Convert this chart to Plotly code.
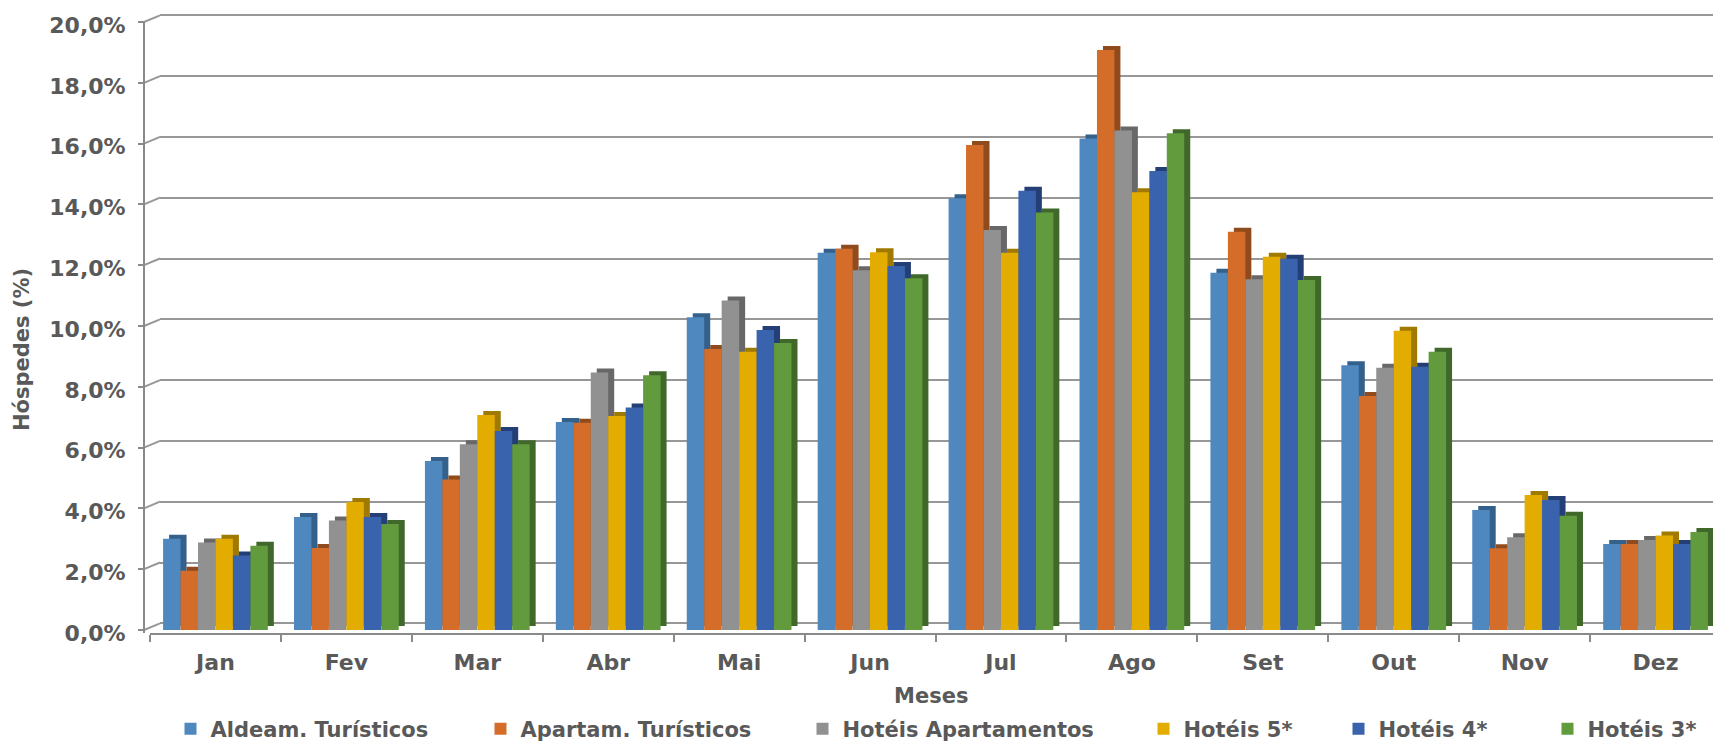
import plotly.graph_objects as go

# ---------------- data ----------------
months = ["Jan", "Fev", "Mar", "Abr", "Mai", "Jun", "Jul", "Ago", "Set", "Out", "Nov", "Dez"]

aldeam_turisticos = [3.00, 3.72, 5.56, 6.84, 10.29, 12.41, 14.20, 16.17, 11.75, 8.71, 3.95, 2.83]
apartam_turisticos = [1.95, 2.70, 4.95, 6.82, 9.24, 12.54, 15.95, 19.08, 13.10, 7.70, 2.69, 2.83]
hoteis_apartamentos = [2.88, 3.60, 6.11, 8.47, 10.84, 11.83, 13.16, 16.43, 11.54, 8.63, 3.05, 2.96]
hoteis_5 = [3.00, 4.21, 7.07, 7.04, 9.15, 12.43, 12.41, 14.40, 12.28, 9.84, 4.44, 3.11]
hoteis_4 = [2.45, 3.72, 6.55, 7.32, 9.87, 11.97, 14.45, 15.10, 12.21, 8.66, 4.28, 2.83]
hoteis_3 = [2.77, 3.49, 6.11, 8.38, 9.44, 11.57, 13.73, 16.34, 11.51, 9.15, 3.76, 3.22]

series_names = ["Aldeam. Turísticos", "Apartam. Turísticos", "Hotéis Apartamentos",
                "Hotéis 5*", "Hotéis 4*", "Hotéis 3*"]
series_values = [aldeam_turisticos, apartam_turisticos, hoteis_apartamentos,
                 hoteis_5, hoteis_4, hoteis_3]

tick_values = [0, 2, 4, 6, 8, 10, 12, 14, 16, 18, 20]
tick_labels = ["0,0%", "2,0%", "4,0%", "6,0%", "8,0%", "10,0%", "12,0%",
               "14,0%", "16,0%", "18,0%", "20,0%"]

# ---------------- style ----------------
SCREEN_W, SCREEN_H = 1721, 741
BODY = 8                               # default page body margin
W, H = SCREEN_W - BODY, SCREEN_H - BODY
front_colors = ["#4F88BF", "#D46C2A", "#919191", "#E3AC00", "#3A63AD", "#619B3D"]
side_colors = ["#34608C", "#8F4A1D", "#686868", "#A07900", "#243F75", "#3F682A"]
text_color = "#595959"
grid_color = "#979797"
axis_color = "#8A8A8A"
FONT = "DejaVu Sans"

# layout positions, in screen pixels
px_per_unit = 30.4          # pixels per 1 %
bar_zero_px = 630           # y pixel of bars' base
floor_front_px = 633
back_zero_px = 623.3
top_grid_px = 10
x_front_px = 144
x_back_px = 160
x_bars_left_px = 150
y2_top_value = 20.4

n = len(series_names)
group_w = 0.8
bw = group_w / n
cat_px = (SCREEN_W - x_bars_left_px) / len(months)
dx_units = 6 / cat_px       # side face depth
dy_units = 4 / px_per_unit  # top face depth


def py(px):
    return (SCREEN_H - px) / H


def px_x(px):
    return (px - BODY) / W


fig = go.Figure()

# dummy trace creates the back-wall grid subplot
fig.add_trace(go.Scatter(x=[], y=[], xaxis="x", yaxis="y", showlegend=False, hoverinfo="skip"))

legend_marker_center = [193, 503, 825, 1166, 1361, 1570]
legend_ids = ["legend", "legend2", "legend3", "legend4", "legend5", "legend6"]

for i, (name, vals) in enumerate(zip(series_names, series_values)):
    off = -group_w / 2 + i * bw
    # shadow (side + top face)
    fig.add_trace(go.Bar(
        x=months, y=vals, base=dy_units, offset=off + dx_units, width=bw,
        marker=dict(color=side_colors[i], line=dict(width=0)),
        xaxis="x2", yaxis="y2", showlegend=False, hoverinfo="skip",
    ))
    # front face
    fig.add_trace(go.Bar(
        x=months, y=vals, offset=off, width=bw, name=name,
        marker=dict(color=front_colors[i], line=dict(width=0)),
        xaxis="x2", yaxis="y2", legend=legend_ids[i],
    ))

# grid subplot ranges
y_grid_r0 = -(floor_front_px - back_zero_px) / px_per_unit
y_grid_r1 = y_grid_r0 + (floor_front_px - top_grid_px) / px_per_unit
y2_r0 = -(floor_front_px - bar_zero_px) / px_per_unit
y2_top_px = bar_zero_px - y2_top_value * px_per_unit

shapes = []
front_to_grid = (back_zero_px - bar_zero_px) / px_per_unit  # in grid-axis units
for v in tick_values:
    shapes.append(dict(type="line", xref="paper", yref="y",
                       x0=px_x(x_front_px), y0=v + front_to_grid,
                       x1=px_x(x_back_px), y1=v,
                       line=dict(color=grid_color, width=2)))

layout_legends = {}
for i, lid in enumerate(legend_ids):
    layout_legends[lid] = dict(
        orientation="h", x=px_x(legend_marker_center[i] - 22.5), xanchor="left",
        y=py(729), yanchor="middle", bgcolor="rgba(0,0,0,0)",
        font=dict(family=FONT, size=21, color=text_color, weight="bold"),
        itemclick=False, itemdoubleclick=False,
    )

fig.update_layout(
    width=W, height=H,
    margin=dict(l=0, r=0, t=0, b=0, pad=0, autoexpand=False),
    paper_bgcolor="white",
    plot_bgcolor="rgba(0,0,0,0)",
    barmode="overlay",
    showlegend=True,
    font=dict(family=FONT, color=text_color),
    xaxis=dict(domain=[px_x(x_back_px), 1], range=[0, 1], visible=False, anchor="y"),
    yaxis=dict(domain=[py(floor_front_px), py(top_grid_px)], range=[y_grid_r0, y_grid_r1],
               anchor="x", showgrid=True, gridcolor=grid_color, gridwidth=2,
               tickvals=tick_values, showticklabels=False, ticks="", showline=False,
               zeroline=False, fixedrange=True, automargin=False),
    xaxis2=dict(domain=[px_x(x_bars_left_px), 1], anchor="y2", type="category",
                range=[-0.5, len(months) - 0.5], showline=True, linecolor=axis_color,
                linewidth=2, ticks="outside", tickson="boundaries", ticklen=7,
                tickwidth=1.5, tickcolor=axis_color, showgrid=False, automargin=False,
                tickfont=dict(family=FONT, size=22, color=text_color, weight="bold"),
                ticklabelstandoff=9),
    yaxis2=dict(domain=[py(floor_front_px), py(y2_top_px)], range=[y2_r0, y2_top_value],
                anchor="free", position=px_x(x_front_px), showline=False,
                ticks="outside", ticklen=6,
                tickwidth=1.5, tickcolor=axis_color, tickvals=tick_values,
                ticktext=tick_labels, showgrid=False, zeroline=False, automargin=False,
                tickfont=dict(family=FONT, size=22, color=text_color, weight="bold"),
                ticklabelshift=3, ticklabelstandoff=8, ticklabeloverflow="allow"),
    shapes=shapes + [
        # front vertical axis line from floor to the 20 % tick
        dict(type="line", xref="paper", yref="y2", x0=px_x(x_front_px), x1=px_x(x_front_px),
             y0=y2_r0, y1=tick_values[-1], line=dict(color=axis_color, width=2)),
    ],
    annotations=[
        dict(text="Meses", xref="paper", yref="paper", x=px_x(931), y=py(696),
             xanchor="center", yanchor="middle", showarrow=False,
             font=dict(family=FONT, size=21, color=text_color, weight="bold")),
        dict(text="Hóspedes (%)", xref="paper", yref="paper", x=px_x(22), y=py(350),
             xanchor="center", yanchor="middle", showarrow=False, textangle=-90,
             font=dict(family=FONT, size=21, color=text_color, weight="bold")),
    ],
    **layout_legends,
)

fig.write_html("out.html")
